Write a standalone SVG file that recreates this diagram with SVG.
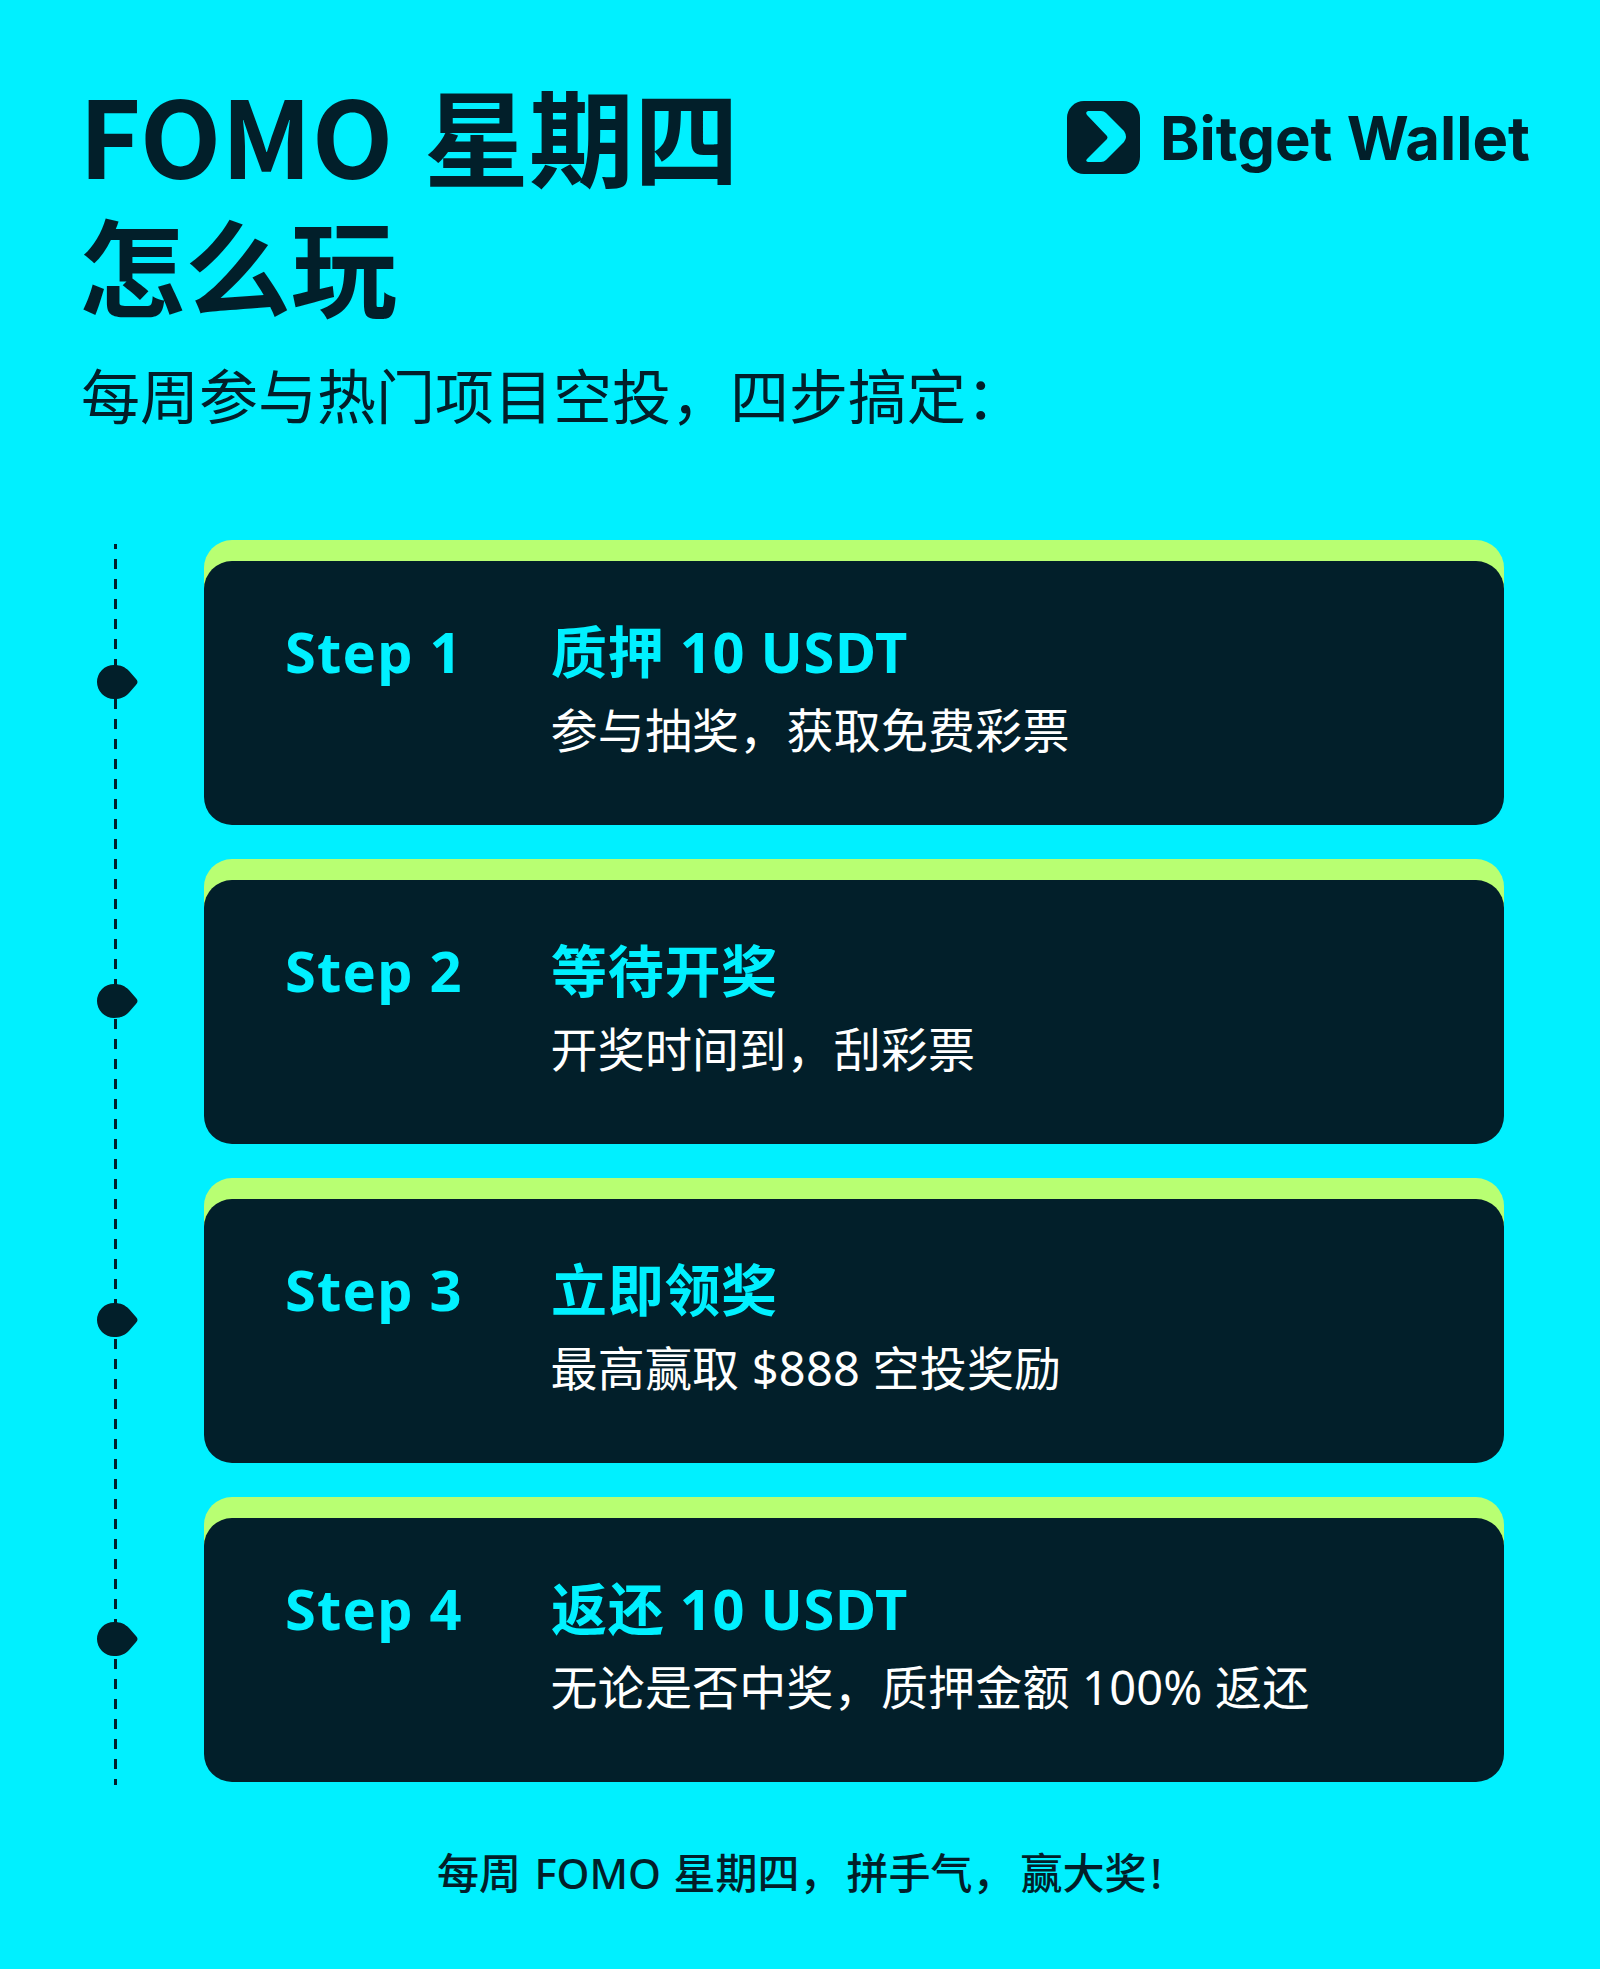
<svg xmlns="http://www.w3.org/2000/svg" width="1600" height="1969" viewBox="0 0 1600 1969">
<defs>
<style>
text{font-family:"Noto Sans","Noto Sans CJK SC",sans-serif;}
.title{font-size:106px;font-weight:700;fill:#021f2a;font-family:"Noto Sans CJK SC",sans-serif;}
.sub{font-size:59px;font-weight:400;fill:#021f2a;}
.step{font-size:56px;font-weight:700;fill:#00f0ff;letter-spacing:.7px;}
.label{letter-spacing:1.200px;}
.body{font-size:47px;font-weight:400;fill:#fff;letter-spacing:.2px;}
.foot{font-size:42px;font-weight:500;fill:#021f2a;}
</style>
<path id="dot" d="M0 -17 C7 -17 11 -15 15 -11 L22 -3 Q25 0 22 3 L15 11 C11 15 7 17 0 17 A17 17 0 0 1 0 -17Z" fill="#021f2a"/>
</defs>
<rect width="1600" height="1969" fill="#00f0ff"/>
<g id="header">
<text class="title" x="79" y="179">FOMO<tspan x="424" style="font-size:105px">星期四</tspan></text>
<text class="title" x="79" y="309">怎么玩</text>
<text class="sub" x="81" y="419">每周参与热门项目空投，四步搞定：</text>
</g>
<g id="logo">
<rect x="1067" y="101" width="73" height="73" rx="17" fill="#021f2a"/>
<path d="M1088 111 L1101 111 Q1104 111 1106 113 L1124 131 Q1128 137 1124 142 L1106 160 Q1104 162 1101 162 L1088 162 Q1085 161 1087 159 L1107 139 Q1108 137.500 1107 136 L1087 115 Q1085 112 1088 111Z" fill="#00f0ff"/>
<text x="1160" y="160" font-size="60" font-weight="700" style="font-family:'Inter',sans-serif" fill="#021f2a" textLength="370" lengthAdjust="spacingAndGlyphs">Bitget Wallet</text>
</g>
<g id="connectors">
<line x1="115.500" y1="544" x2="115.500" y2="1785" stroke="#021f2a" stroke-width="3" stroke-dasharray="10 10" stroke-dashoffset="5"/>
<use href="#dot" x="114" y="682"/>
<use href="#dot" x="114" y="1001"/>
<use href="#dot" x="114" y="1320"/>
<use href="#dot" x="114" y="1639"/>
</g>
<g id="step1">
<rect x="204" y="540" width="1300" height="100" rx="28" fill="#b8ff72"/>
<rect x="204" y="561" width="1300" height="264" rx="28" fill="#021f2a"/>
<text class="step label" x="285" y="673">Step 1</text>
<text class="step" x="551" y="673">质押 10 USDT</text>
<text class="body" x="550.500" y="748">参与抽奖，获取免费彩票</text>
</g>
<g id="step2">
<rect x="204" y="859" width="1300" height="100" rx="28" fill="#b8ff72"/>
<rect x="204" y="880" width="1300" height="264" rx="28" fill="#021f2a"/>
<text class="step label" x="285" y="992">Step 2</text>
<text class="step" x="551" y="992">等待开奖</text>
<text class="body" x="550.500" y="1067">开奖时间到，刮彩票</text>
</g>
<g id="step3">
<rect x="204" y="1178" width="1300" height="100" rx="28" fill="#b8ff72"/>
<rect x="204" y="1199" width="1300" height="264" rx="28" fill="#021f2a"/>
<text class="step label" x="285" y="1311">Step 3</text>
<text class="step" x="551" y="1311">立即领奖</text>
<text class="body" x="550.500" y="1386">最高赢取 $888 空投奖励</text>
</g>
<g id="step4">
<rect x="204" y="1497" width="1300" height="100" rx="28" fill="#b8ff72"/>
<rect x="204" y="1518" width="1300" height="264" rx="28" fill="#021f2a"/>
<text class="step label" x="285" y="1630">Step 4</text>
<text class="step" x="551" y="1630">返还 10 USDT</text>
<text class="body" x="550.500" y="1705">无论是否中奖，质押金额 100% 返还</text>
</g>
<text id="footer" class="foot" x="437" y="1889">每周 <tspan dx="2.500">FOMO</tspan> <tspan dx="1.500">星期四，</tspan><tspan dx="5">拼手气，</tspan><tspan dx="6">赢大奖</tspan><tspan dx="4">!</tspan></text>
</svg>
